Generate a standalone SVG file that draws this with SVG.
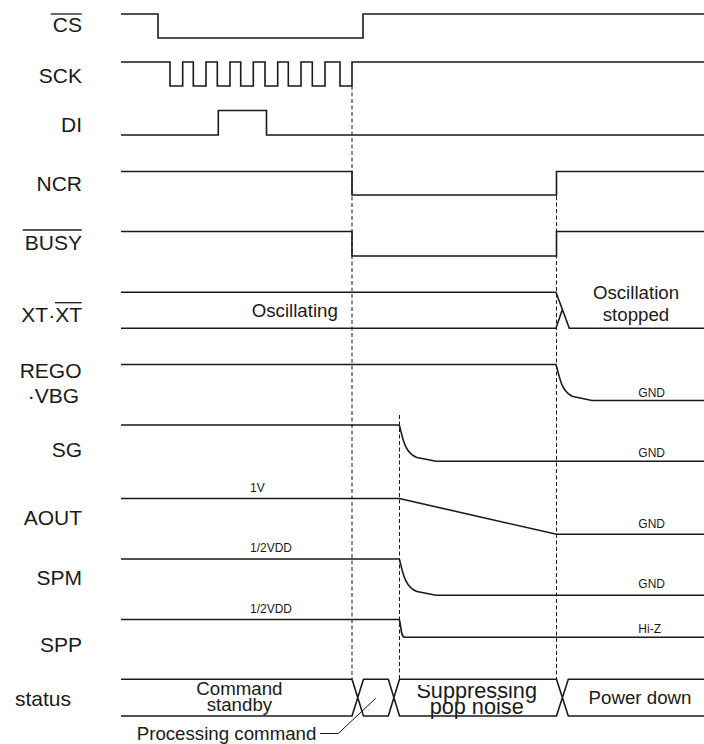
<svg xmlns="http://www.w3.org/2000/svg" width="704" height="744" viewBox="0 0 704 744">
<style>
.sig{fill:none;stroke:#1a1a1a;stroke-width:1.6;stroke-linejoin:miter}
.ov{stroke:#1a1a1a;stroke-width:1.3}
.dash{fill:none;stroke:#1a1a1a;stroke-width:1;stroke-dasharray:4,2.5}
.lead{fill:none;stroke:#1a1a1a;stroke-width:1}
.lbl{font-family:"Liberation Sans",Arial,sans-serif;font-size:21px;fill:#1a1a1a;text-anchor:end}
.txt{font-family:"Liberation Sans",Arial,sans-serif;font-size:18.7px;fill:#1a1a1a}
.sm{font-family:"Liberation Sans",Arial,sans-serif;font-size:12px;fill:#1a1a1a}
.mid{text-anchor:middle}
</style>
<defs>
<clipPath id="clipSup"><rect x="400" y="685" width="156" height="59"/></clipPath>
</defs>
<rect width="704" height="744" fill="#ffffff"/>
<g id="connectors">
<line class="dash" x1="352" y1="86" x2="352" y2="679"/>
<line class="dash" x1="399.5" y1="415" x2="399.5" y2="679"/>
<line class="dash" x1="556.5" y1="196" x2="556.5" y2="679"/>
<path class="lead" d="M320,733.5 H338.3 L375.7,698.3"/>
</g>
<g id="cs">
<text class="lbl" x="82" y="32">CS</text>
<line class="ov" x1="50.7" y1="14" x2="81.7" y2="14"/>
<path class="sig" d="M121,14 H158 V38 H363 V14 H704"/>
</g>
<g id="sck">
<text class="lbl" x="82" y="83.3">SCK</text>
<path class="sig" d="M121,62 H170 V86 H182.7 V62 H193.3 V86 H206 V62 H217.3 V86 H230 V62 H240.7 V86 H253.3 V62 H265 V86 H277.7 V62 H288.3 V86 H301 V62 H312.3 V86 H325 V62 H340 V86 H352 V62 H704"/>
</g>
<g id="di">
<text class="lbl" x="82" y="131.7">DI</text>
<path class="sig" d="M121,135 H218.3 V110.5 H266.5 V135 H704"/>
</g>
<g id="ncr">
<text class="lbl" x="82" y="191">NCR</text>
<path class="sig" d="M121,171.5 H352 V195 H556.5 V171.5 H704"/>
</g>
<g id="busy">
<text class="lbl" x="82" y="250">BUSY</text>
<line class="ov" x1="22.7" y1="230" x2="81.7" y2="230"/>
<path class="sig" d="M121,231.5 H352 V256 H556.5 V231.5 H704"/>
</g>
<g id="xt">
<text class="lbl" x="82" y="321.7">XT·XT</text>
<line class="ov" x1="55" y1="302.7" x2="81.7" y2="302.7"/>
<path class="sig" d="M121,292.3 H556 L569.3,328.3 H704 M121,328.3 H556 L562,310.5"/>
<text class="txt" x="251.7" y="316.7">Oscillating</text>
<text class="txt mid" x="636" y="299.3">Oscillation</text>
<text class="txt mid" x="636" y="320.7">stopped</text>
</g>
<g id="rego">
<text class="lbl" x="81.5" y="378">REGO</text>
<text class="lbl" x="79" y="402.7">·VBG</text>
<path class="sig" d="M121,364.5 H556 C559.5,376 561,392 573,396.5 L592,400.5 H704"/>
<text class="sm" x="638.3" y="396.7">GND</text>
</g>
<g id="sg">
<text class="lbl" x="82" y="456.7">SG</text>
<path class="sig" d="M121,425 H399.3 C402.5,436 404,453 417,457.5 L436,461.3 H704"/>
<text class="sm" x="638.3" y="456.7">GND</text>
</g>
<g id="aout">
<text class="lbl" x="82" y="525">AOUT</text>
<path class="sig" d="M121,498.5 H399.3 L556.5,534.3 H704"/>
<text class="sm" x="250" y="492.3">1V</text>
<text class="sm" x="638.3" y="527.7">GND</text>
</g>
<g id="spm">
<text class="lbl" x="82" y="585">SPM</text>
<path class="sig" d="M121,559 H399.3 C402.5,570 404,587 417,591.5 L436,595.3 H704"/>
<text class="sm" x="250" y="552.3">1/2VDD</text>
<text class="sm" x="638.3" y="587.7">GND</text>
</g>
<g id="spp">
<text class="lbl" x="82" y="652">SPP</text>
<path class="sig" d="M121,619.5 H399.3 C401.5,627 400.5,637.3 405,637.3 H704"/>
<text class="sm" x="250" y="612.7">1/2VDD</text>
<text class="sm" x="638.3" y="633.3">Hi-Z</text>
</g>
<g id="status">
<text class="lbl" x="71" y="705.7">status</text>
<path class="sig" d="M121,679.3 H352 L363.5,716 H388.3 L399.5,679.3 H556.5 L568.3,716 H704 M121,716 H352 L363.5,679.3 H388.3 L399.5,716 H556.5 L568.3,679.3 H704"/>
<text class="txt mid" x="239.4" y="695">Command</text>
<text class="txt mid" x="239.4" y="711">standby</text>
<g clip-path="url(#clipSup)">
<text class="txt mid" style="font-size:21.7px" x="476.7" y="698">Suppressing</text>
<text class="txt mid" style="font-size:21.7px" x="476.7" y="714">pop noise</text>
</g>
<text class="txt mid" x="640" y="704">Power down</text>
<text class="txt" x="136.7" y="740">Processing command</text>
</g>
</svg>
